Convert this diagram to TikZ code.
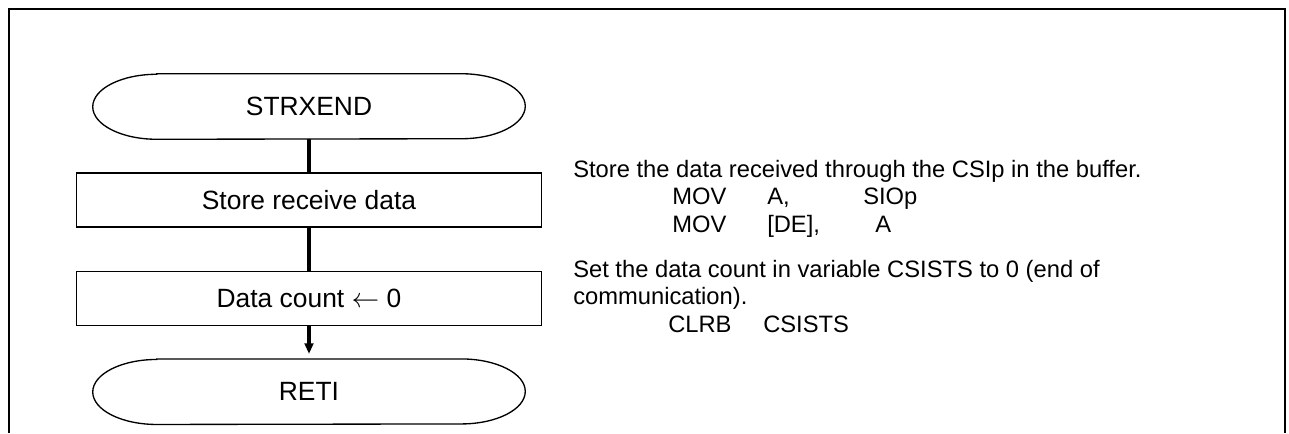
\documentclass[tikz,border=0pt]{standalone}
\usepackage{fontspec}
\setmainfont{Liberation Sans}
\usetikzlibrary{arrows.meta,positioning}

\begin{document}
\begin{tikzpicture}[x=0.75pt, y=-0.75pt,
        term/.style={minimum width=324pt, minimum height=48.75pt, inner sep=0pt, font=\fontsize{19.8}{24}\selectfont},
        box/.style={draw, line width=1pt, minimum width=348.75pt, minimum height=40.5pt, inner sep=0pt, font=\fontsize{19.8}{24}\selectfont},
        note/.style={anchor=base west, align=left, inner sep=0pt, font=\fontsize{17.8}{20.6}\selectfont},
        conn/.style={line width=2.4pt},
        arr/.style={-{Triangle[length=8pt, width=6.5pt]}, line width=2.4pt}
      ]
        \useasboundingbox (0,0) rectangle (1289,433);
        \draw[line width=1.5pt] (9,433) -- (9,9) -- (1285,9) -- (1285,433);
        \node[term] (start) at (309,106.5) {STRXEND};
        \node[box,below=24.75pt of start] (store) {Store receive data};
        \node[box,below=32.25pt of store] (count) {Data count $\leftarrow$ 0};
        \node[term,below=24.75pt of count] (reti) {RETI};
        \foreach \t in {start,reti}
          \draw[line width=1pt] ([xshift=48pt]\t.north west) -- ([xshift=-48pt]\t.north east)
            arc[start angle=90, end angle=-90, x radius=48pt, y radius=24.375pt]
            -- ([xshift=48pt]\t.south west)
            arc[start angle=270, end angle=90, x radius=48pt, y radius=24.375pt] -- cycle;
        \draw[conn] (start) -- (store);
        \draw[conn] (store) -- (count);
        \draw[arr, shorten >=3.75pt] (count) -- (reti);
        \node[note] (storenote) at (573,232) {Store the data received through the CSIp in the buffer.\\
          \hspace*{74.25pt}\makebox[71.25pt][l]{MOV}\makebox[72pt][l]{A,}SIOp\\
          \hspace*{74.25pt}\makebox[71.25pt][l]{MOV}\makebox[81pt][l]{[DE],}A};
        \node[note] (countnote) at (573,332) {Set the data count in variable CSISTS to 0 (end of\\
          communication).\\
          \hspace*{71.25pt}\makebox[71.25pt][l]{CLRB}CSISTS};
      \end{tikzpicture}
\end{document}
